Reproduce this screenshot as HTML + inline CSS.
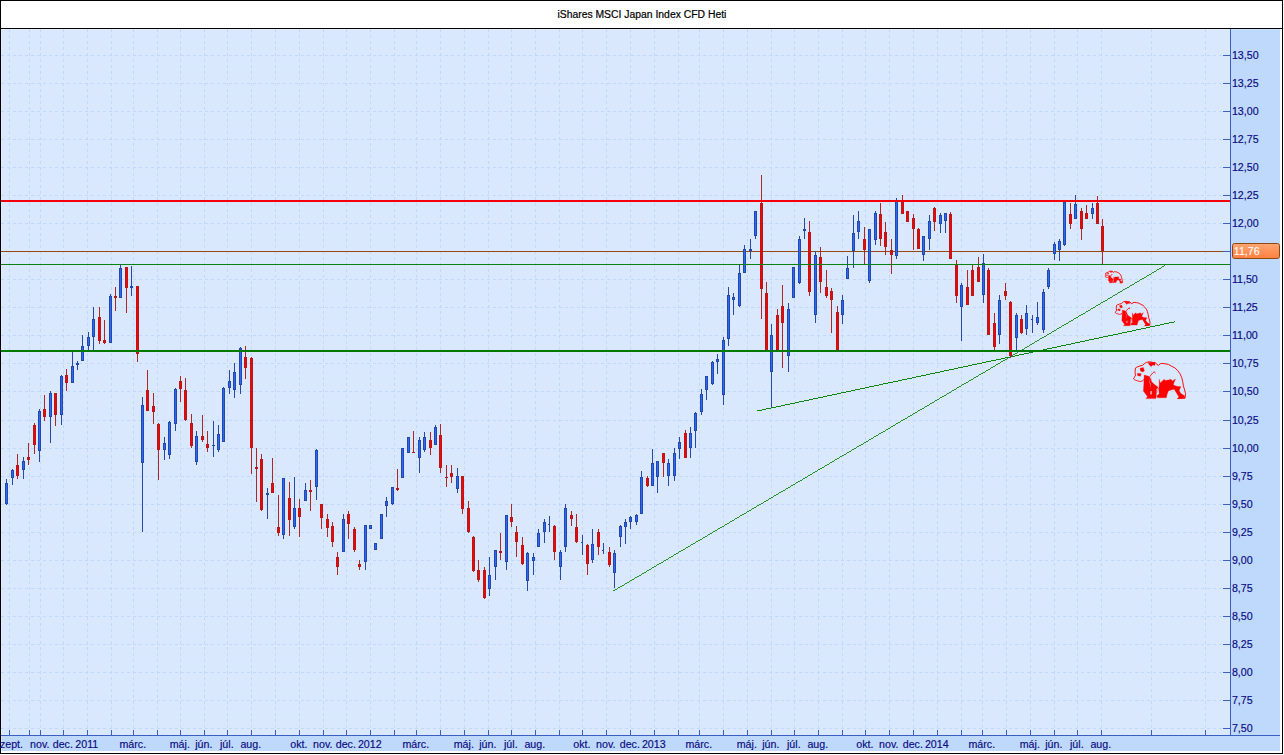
<!DOCTYPE html>
<html lang="hu"><head><meta charset="utf-8"><title>iShares MSCI Japan Index CFD Heti</title>
<style>html,body{margin:0;padding:0;background:#fff}body{width:1284px;height:755px;overflow:hidden;font-family:"Liberation Sans",Arial,sans-serif}svg{display:block}text{font-family:"Liberation Sans",Arial,sans-serif;font-size:10.67px}</style>
</head><body>
<svg width="1284" height="755" viewBox="0 0 1284 755">
<rect x="0" y="0" width="1284" height="755" fill="#fff"/>
<g shape-rendering="crispEdges">
<rect x="0" y="0" width="1283" height="754" fill="#000"/>
<rect x="1" y="1" width="1281" height="752" fill="#fff"/>
<rect x="0" y="28" width="1283" height="1" fill="#000"/>
<rect x="1" y="29" width="1279" height="722" fill="#BFD9FC"/>
<rect x="1" y="29" width="1229" height="706" fill="#D9E8FD"/>
<rect x="1" y="29" width="1229" height="1" fill="#E0EEFE"/>
<rect x="1231" y="29" width="49" height="1" fill="#C8E2FD"/>
<rect x="1" y="29" width="1" height="706" fill="#E0EEFE"/>
<rect x="1" y="736" width="1" height="15" fill="#D3E8FE"/>
<g fill="#BFD8FC">
<path d="M1 728.5H1222" stroke="#BFD8FC" stroke-width="1" stroke-dasharray="3 3" fill="none"/>
<path d="M1 700.5H1222" stroke="#BFD8FC" stroke-width="1" stroke-dasharray="3 3" fill="none"/>
<path d="M1 672.5H1222" stroke="#BFD8FC" stroke-width="1" stroke-dasharray="3 3" fill="none"/>
<path d="M1 644.5H1222" stroke="#BFD8FC" stroke-width="1" stroke-dasharray="3 3" fill="none"/>
<path d="M1 616.5H1222" stroke="#BFD8FC" stroke-width="1" stroke-dasharray="3 3" fill="none"/>
<path d="M1 588.5H1222" stroke="#BFD8FC" stroke-width="1" stroke-dasharray="3 3" fill="none"/>
<path d="M1 560.5H1222" stroke="#BFD8FC" stroke-width="1" stroke-dasharray="3 3" fill="none"/>
<path d="M1 532.5H1222" stroke="#BFD8FC" stroke-width="1" stroke-dasharray="3 3" fill="none"/>
<path d="M1 504.5H1222" stroke="#BFD8FC" stroke-width="1" stroke-dasharray="3 3" fill="none"/>
<path d="M1 476.5H1222" stroke="#BFD8FC" stroke-width="1" stroke-dasharray="3 3" fill="none"/>
<path d="M1 448.5H1222" stroke="#BFD8FC" stroke-width="1" stroke-dasharray="3 3" fill="none"/>
<path d="M1 420.5H1222" stroke="#BFD8FC" stroke-width="1" stroke-dasharray="3 3" fill="none"/>
<path d="M1 391.5H1222" stroke="#BFD8FC" stroke-width="1" stroke-dasharray="3 3" fill="none"/>
<path d="M1 363.5H1222" stroke="#BFD8FC" stroke-width="1" stroke-dasharray="3 3" fill="none"/>
<path d="M1 335.5H1222" stroke="#BFD8FC" stroke-width="1" stroke-dasharray="3 3" fill="none"/>
<path d="M1 307.5H1222" stroke="#BFD8FC" stroke-width="1" stroke-dasharray="3 3" fill="none"/>
<path d="M1 279.5H1222" stroke="#BFD8FC" stroke-width="1" stroke-dasharray="3 3" fill="none"/>
<path d="M1 251.5H1222" stroke="#BFD8FC" stroke-width="1" stroke-dasharray="3 3" fill="none"/>
<path d="M1 223.5H1222" stroke="#BFD8FC" stroke-width="1" stroke-dasharray="3 3" fill="none"/>
<path d="M1 195.5H1222" stroke="#BFD8FC" stroke-width="1" stroke-dasharray="3 3" fill="none"/>
<path d="M1 167.5H1222" stroke="#BFD8FC" stroke-width="1" stroke-dasharray="3 3" fill="none"/>
<path d="M1 139.5H1222" stroke="#BFD8FC" stroke-width="1" stroke-dasharray="3 3" fill="none"/>
<path d="M1 111.5H1222" stroke="#BFD8FC" stroke-width="1" stroke-dasharray="3 3" fill="none"/>
<path d="M1 83.5H1222" stroke="#BFD8FC" stroke-width="1" stroke-dasharray="3 3" fill="none"/>
<path d="M1 55.5H1222" stroke="#BFD8FC" stroke-width="1" stroke-dasharray="3 3" fill="none"/>
<path d="M9.5 29V730" stroke="#BFD8FC" stroke-width="1" stroke-dasharray="3 3" fill="none"/>
<path d="M29.5 29V730" stroke="#BFD8FC" stroke-width="1" stroke-dasharray="3 3" fill="none"/>
<path d="M40.5 29V730" stroke="#BFD8FC" stroke-width="1" stroke-dasharray="3 3" fill="none"/>
<path d="M63.5 29V730" stroke="#BFD8FC" stroke-width="1" stroke-dasharray="3 3" fill="none"/>
<path d="M87.5 29V730" stroke="#BFD8FC" stroke-width="1" stroke-dasharray="3 3" fill="none"/>
<path d="M111.5 29V730" stroke="#BFD8FC" stroke-width="1" stroke-dasharray="3 3" fill="none"/>
<path d="M133.5 29V730" stroke="#BFD8FC" stroke-width="1" stroke-dasharray="3 3" fill="none"/>
<path d="M157.5 29V730" stroke="#BFD8FC" stroke-width="1" stroke-dasharray="3 3" fill="none"/>
<path d="M180.5 29V730" stroke="#BFD8FC" stroke-width="1" stroke-dasharray="3 3" fill="none"/>
<path d="M204.5 29V730" stroke="#BFD8FC" stroke-width="1" stroke-dasharray="3 3" fill="none"/>
<path d="M227.5 29V730" stroke="#BFD8FC" stroke-width="1" stroke-dasharray="3 3" fill="none"/>
<path d="M251.5 29V730" stroke="#BFD8FC" stroke-width="1" stroke-dasharray="3 3" fill="none"/>
<path d="M275.5 29V730" stroke="#BFD8FC" stroke-width="1" stroke-dasharray="3 3" fill="none"/>
<path d="M299.5 29V730" stroke="#BFD8FC" stroke-width="1" stroke-dasharray="3 3" fill="none"/>
<path d="M323.5 29V730" stroke="#BFD8FC" stroke-width="1" stroke-dasharray="3 3" fill="none"/>
<path d="M346.5 29V730" stroke="#BFD8FC" stroke-width="1" stroke-dasharray="3 3" fill="none"/>
<path d="M370.5 29V730" stroke="#BFD8FC" stroke-width="1" stroke-dasharray="3 3" fill="none"/>
<path d="M394.5 29V730" stroke="#BFD8FC" stroke-width="1" stroke-dasharray="3 3" fill="none"/>
<path d="M416.5 29V730" stroke="#BFD8FC" stroke-width="1" stroke-dasharray="3 3" fill="none"/>
<path d="M440.5 29V730" stroke="#BFD8FC" stroke-width="1" stroke-dasharray="3 3" fill="none"/>
<path d="M464.5 29V730" stroke="#BFD8FC" stroke-width="1" stroke-dasharray="3 3" fill="none"/>
<path d="M488.5 29V730" stroke="#BFD8FC" stroke-width="1" stroke-dasharray="3 3" fill="none"/>
<path d="M511.5 29V730" stroke="#BFD8FC" stroke-width="1" stroke-dasharray="3 3" fill="none"/>
<path d="M535.5 29V730" stroke="#BFD8FC" stroke-width="1" stroke-dasharray="3 3" fill="none"/>
<path d="M559.5 29V730" stroke="#BFD8FC" stroke-width="1" stroke-dasharray="3 3" fill="none"/>
<path d="M582.5 29V730" stroke="#BFD8FC" stroke-width="1" stroke-dasharray="3 3" fill="none"/>
<path d="M606.5 29V730" stroke="#BFD8FC" stroke-width="1" stroke-dasharray="3 3" fill="none"/>
<path d="M630.5 29V730" stroke="#BFD8FC" stroke-width="1" stroke-dasharray="3 3" fill="none"/>
<path d="M654.5 29V730" stroke="#BFD8FC" stroke-width="1" stroke-dasharray="3 3" fill="none"/>
<path d="M678.5 29V730" stroke="#BFD8FC" stroke-width="1" stroke-dasharray="3 3" fill="none"/>
<path d="M699.5 29V730" stroke="#BFD8FC" stroke-width="1" stroke-dasharray="3 3" fill="none"/>
<path d="M723.5 29V730" stroke="#BFD8FC" stroke-width="1" stroke-dasharray="3 3" fill="none"/>
<path d="M747.5 29V730" stroke="#BFD8FC" stroke-width="1" stroke-dasharray="3 3" fill="none"/>
<path d="M771.5 29V730" stroke="#BFD8FC" stroke-width="1" stroke-dasharray="3 3" fill="none"/>
<path d="M794.5 29V730" stroke="#BFD8FC" stroke-width="1" stroke-dasharray="3 3" fill="none"/>
<path d="M818.5 29V730" stroke="#BFD8FC" stroke-width="1" stroke-dasharray="3 3" fill="none"/>
<path d="M842.5 29V730" stroke="#BFD8FC" stroke-width="1" stroke-dasharray="3 3" fill="none"/>
<path d="M865.5 29V730" stroke="#BFD8FC" stroke-width="1" stroke-dasharray="3 3" fill="none"/>
<path d="M889.5 29V730" stroke="#BFD8FC" stroke-width="1" stroke-dasharray="3 3" fill="none"/>
<path d="M913.5 29V730" stroke="#BFD8FC" stroke-width="1" stroke-dasharray="3 3" fill="none"/>
<path d="M937.5 29V730" stroke="#BFD8FC" stroke-width="1" stroke-dasharray="3 3" fill="none"/>
<path d="M961.5 29V730" stroke="#BFD8FC" stroke-width="1" stroke-dasharray="3 3" fill="none"/>
<path d="M982.5 29V730" stroke="#BFD8FC" stroke-width="1" stroke-dasharray="3 3" fill="none"/>
<path d="M1006.5 29V730" stroke="#BFD8FC" stroke-width="1" stroke-dasharray="3 3" fill="none"/>
<path d="M1030.5 29V730" stroke="#BFD8FC" stroke-width="1" stroke-dasharray="3 3" fill="none"/>
<path d="M1054.5 29V730" stroke="#BFD8FC" stroke-width="1" stroke-dasharray="3 3" fill="none"/>
<path d="M1077.5 29V730" stroke="#BFD8FC" stroke-width="1" stroke-dasharray="3 3" fill="none"/>
<path d="M1101.5 29V730" stroke="#BFD8FC" stroke-width="1" stroke-dasharray="3 3" fill="none"/>
<path d="M1151.5 29V730" stroke="#BFD8FC" stroke-width="1" stroke-dasharray="3 3" fill="none"/>
<path d="M1205.5 29V730" stroke="#BFD8FC" stroke-width="1" stroke-dasharray="3 3" fill="none"/>
</g>
<rect x="1" y="200" width="1229" height="2" fill="#F4000C"/>
<rect x="1" y="251" width="1222" height="1" fill="#96480F"/>
<rect x="1" y="264" width="1229" height="1" fill="#0E820E"/>
<rect x="1" y="350" width="1229" height="2" fill="#007A00"/>
</g>
<g stroke="#0A820A" stroke-width="1" fill="none" shape-rendering="crispEdges">
<line x1="613.4" y1="591.0" x2="1165.2" y2="265.4" stroke-width="0.87"/>
<line x1="757.1" y1="411.0" x2="1175.2" y2="321.7" stroke-width="0.98"/>
</g>
<g shape-rendering="crispEdges">
<rect x="6" y="479" width="1" height="26" fill="#2848A6"/>
<rect x="5" y="483" width="3" height="21" fill="#2448AA"/>
<rect x="6" y="484" width="1" height="19" fill="#2A68FF"/>
<rect x="12" y="469" width="1" height="16" fill="#2848A6"/>
<rect x="11" y="470" width="3" height="8" fill="#2448AA"/>
<rect x="12" y="471" width="1" height="6" fill="#2A68FF"/>
<rect x="17" y="454" width="1" height="25" fill="#AA2828"/>
<rect x="16" y="465" width="3" height="11" fill="#B41818"/>
<rect x="17" y="466" width="1" height="9" fill="#FF0000"/>
<rect x="23" y="457" width="1" height="22" fill="#2848A6"/>
<rect x="22" y="461" width="3" height="9" fill="#2448AA"/>
<rect x="23" y="462" width="1" height="7" fill="#2A68FF"/>
<rect x="28" y="443" width="1" height="22" fill="#AA2828"/>
<rect x="27" y="457" width="3" height="3" fill="#B41818"/>
<rect x="28" y="458" width="1" height="1" fill="#FF0000"/>
<rect x="34" y="423" width="1" height="31" fill="#AA2828"/>
<rect x="33" y="425" width="3" height="20" fill="#B41818"/>
<rect x="34" y="426" width="1" height="18" fill="#FF0000"/>
<rect x="39" y="409" width="1" height="53" fill="#2848A6"/>
<rect x="38" y="411" width="3" height="40" fill="#2448AA"/>
<rect x="39" y="412" width="1" height="38" fill="#2A68FF"/>
<rect x="44" y="395" width="1" height="26" fill="#AA2828"/>
<rect x="43" y="409" width="3" height="8" fill="#B41818"/>
<rect x="44" y="410" width="1" height="6" fill="#FF0000"/>
<rect x="50" y="391" width="1" height="52" fill="#2848A6"/>
<rect x="49" y="393" width="3" height="24" fill="#2448AA"/>
<rect x="50" y="394" width="1" height="22" fill="#2A68FF"/>
<rect x="55" y="393" width="1" height="33" fill="#AA2828"/>
<rect x="54" y="393" width="3" height="22" fill="#B41818"/>
<rect x="55" y="394" width="1" height="20" fill="#FF0000"/>
<rect x="61" y="375" width="1" height="50" fill="#2848A6"/>
<rect x="60" y="376" width="3" height="39" fill="#2448AA"/>
<rect x="61" y="377" width="1" height="37" fill="#2A68FF"/>
<rect x="66" y="369" width="1" height="22" fill="#AA2828"/>
<rect x="65" y="375" width="3" height="8" fill="#B41818"/>
<rect x="66" y="376" width="1" height="6" fill="#FF0000"/>
<rect x="72" y="352" width="1" height="31" fill="#2848A6"/>
<rect x="71" y="366" width="3" height="17" fill="#2448AA"/>
<rect x="72" y="367" width="1" height="15" fill="#2A68FF"/>
<rect x="77" y="361" width="1" height="9" fill="#2848A6"/>
<rect x="76" y="363" width="3" height="2" fill="#2448AA"/>
<rect x="82" y="335" width="1" height="26" fill="#2848A6"/>
<rect x="81" y="346" width="3" height="15" fill="#2448AA"/>
<rect x="82" y="347" width="1" height="13" fill="#2A68FF"/>
<rect x="88" y="332" width="1" height="18" fill="#2848A6"/>
<rect x="87" y="337" width="3" height="9" fill="#2448AA"/>
<rect x="88" y="338" width="1" height="7" fill="#2A68FF"/>
<rect x="93" y="307" width="1" height="43" fill="#2848A6"/>
<rect x="92" y="319" width="3" height="18" fill="#2448AA"/>
<rect x="93" y="320" width="1" height="16" fill="#2A68FF"/>
<rect x="99" y="307" width="1" height="37" fill="#AA2828"/>
<rect x="98" y="317" width="3" height="24" fill="#B41818"/>
<rect x="99" y="318" width="1" height="22" fill="#FF0000"/>
<rect x="104" y="320" width="1" height="24" fill="#AA2828"/>
<rect x="103" y="340" width="3" height="3" fill="#B41818"/>
<rect x="104" y="341" width="1" height="1" fill="#FF0000"/>
<rect x="110" y="294" width="1" height="49" fill="#2848A6"/>
<rect x="109" y="296" width="3" height="47" fill="#2448AA"/>
<rect x="110" y="297" width="1" height="45" fill="#2A68FF"/>
<rect x="115" y="287" width="1" height="24" fill="#AA2828"/>
<rect x="114" y="296" width="3" height="2" fill="#B41818"/>
<rect x="120" y="265" width="1" height="33" fill="#2848A6"/>
<rect x="119" y="268" width="3" height="30" fill="#2448AA"/>
<rect x="120" y="269" width="1" height="28" fill="#2A68FF"/>
<rect x="126" y="267" width="1" height="46" fill="#AA2828"/>
<rect x="125" y="267" width="3" height="21" fill="#B41818"/>
<rect x="126" y="268" width="1" height="19" fill="#FF0000"/>
<rect x="131" y="266" width="1" height="30" fill="#2848A6"/>
<rect x="130" y="286" width="3" height="2" fill="#2448AA"/>
<rect x="137" y="286" width="1" height="76" fill="#AA2828"/>
<rect x="136" y="286" width="3" height="68" fill="#B41818"/>
<rect x="137" y="287" width="1" height="66" fill="#FF0000"/>
<rect x="142" y="397" width="1" height="135" fill="#2848A6"/>
<rect x="141" y="405" width="3" height="58" fill="#2448AA"/>
<rect x="142" y="406" width="1" height="56" fill="#2A68FF"/>
<rect x="147" y="370" width="1" height="41" fill="#AA2828"/>
<rect x="146" y="390" width="3" height="21" fill="#B41818"/>
<rect x="147" y="391" width="1" height="19" fill="#FF0000"/>
<rect x="153" y="393" width="1" height="31" fill="#AA2828"/>
<rect x="152" y="406" width="3" height="6" fill="#B41818"/>
<rect x="153" y="407" width="1" height="4" fill="#FF0000"/>
<rect x="158" y="423" width="1" height="57" fill="#AA2828"/>
<rect x="157" y="424" width="3" height="26" fill="#B41818"/>
<rect x="158" y="425" width="1" height="24" fill="#FF0000"/>
<rect x="164" y="437" width="1" height="23" fill="#2848A6"/>
<rect x="163" y="443" width="3" height="7" fill="#2448AA"/>
<rect x="164" y="444" width="1" height="5" fill="#2A68FF"/>
<rect x="169" y="421" width="1" height="38" fill="#2848A6"/>
<rect x="168" y="422" width="3" height="33" fill="#2448AA"/>
<rect x="169" y="423" width="1" height="31" fill="#2A68FF"/>
<rect x="175" y="388" width="1" height="43" fill="#2848A6"/>
<rect x="174" y="389" width="3" height="35" fill="#2448AA"/>
<rect x="175" y="390" width="1" height="33" fill="#2A68FF"/>
<rect x="180" y="376" width="1" height="26" fill="#AA2828"/>
<rect x="179" y="381" width="3" height="8" fill="#B41818"/>
<rect x="180" y="382" width="1" height="6" fill="#FF0000"/>
<rect x="185" y="378" width="1" height="43" fill="#AA2828"/>
<rect x="184" y="390" width="3" height="30" fill="#B41818"/>
<rect x="185" y="391" width="1" height="28" fill="#FF0000"/>
<rect x="191" y="414" width="1" height="34" fill="#AA2828"/>
<rect x="190" y="423" width="3" height="23" fill="#B41818"/>
<rect x="191" y="424" width="1" height="21" fill="#FF0000"/>
<rect x="196" y="431" width="1" height="34" fill="#2848A6"/>
<rect x="195" y="436" width="3" height="26" fill="#2448AA"/>
<rect x="196" y="437" width="1" height="24" fill="#2A68FF"/>
<rect x="202" y="415" width="1" height="27" fill="#AA2828"/>
<rect x="201" y="436" width="3" height="4" fill="#B41818"/>
<rect x="202" y="437" width="1" height="2" fill="#FF0000"/>
<rect x="207" y="431" width="1" height="21" fill="#AA2828"/>
<rect x="206" y="444" width="3" height="4" fill="#B41818"/>
<rect x="207" y="445" width="1" height="2" fill="#FF0000"/>
<rect x="213" y="421" width="1" height="36" fill="#2848A6"/>
<rect x="212" y="445" width="3" height="1" fill="#2448AA"/>
<rect x="218" y="425" width="1" height="27" fill="#2848A6"/>
<rect x="217" y="434" width="3" height="16" fill="#2448AA"/>
<rect x="218" y="435" width="1" height="14" fill="#2A68FF"/>
<rect x="223" y="387" width="1" height="55" fill="#2848A6"/>
<rect x="222" y="388" width="3" height="54" fill="#2448AA"/>
<rect x="223" y="389" width="1" height="52" fill="#2A68FF"/>
<rect x="229" y="370" width="1" height="24" fill="#2848A6"/>
<rect x="228" y="381" width="3" height="7" fill="#2448AA"/>
<rect x="229" y="382" width="1" height="5" fill="#2A68FF"/>
<rect x="234" y="363" width="1" height="35" fill="#2848A6"/>
<rect x="233" y="372" width="3" height="18" fill="#2448AA"/>
<rect x="234" y="373" width="1" height="16" fill="#2A68FF"/>
<rect x="240" y="347" width="1" height="47" fill="#2848A6"/>
<rect x="239" y="348" width="3" height="37" fill="#2448AA"/>
<rect x="240" y="349" width="1" height="35" fill="#2A68FF"/>
<rect x="245" y="346" width="1" height="33" fill="#AA2828"/>
<rect x="244" y="357" width="3" height="11" fill="#B41818"/>
<rect x="245" y="358" width="1" height="9" fill="#FF0000"/>
<rect x="251" y="357" width="1" height="117" fill="#AA2828"/>
<rect x="250" y="358" width="3" height="90" fill="#B41818"/>
<rect x="251" y="359" width="1" height="88" fill="#FF0000"/>
<rect x="256" y="448" width="1" height="54" fill="#AA2828"/>
<rect x="255" y="467" width="3" height="2" fill="#B41818"/>
<rect x="261" y="454" width="1" height="57" fill="#AA2828"/>
<rect x="260" y="459" width="3" height="51" fill="#B41818"/>
<rect x="261" y="460" width="1" height="49" fill="#FF0000"/>
<rect x="267" y="488" width="1" height="31" fill="#2848A6"/>
<rect x="266" y="493" width="3" height="2" fill="#2448AA"/>
<rect x="272" y="458" width="1" height="35" fill="#AA2828"/>
<rect x="271" y="483" width="3" height="10" fill="#B41818"/>
<rect x="272" y="484" width="1" height="8" fill="#FF0000"/>
<rect x="278" y="495" width="1" height="41" fill="#AA2828"/>
<rect x="277" y="527" width="3" height="6" fill="#B41818"/>
<rect x="278" y="528" width="1" height="4" fill="#FF0000"/>
<rect x="283" y="478" width="1" height="61" fill="#2848A6"/>
<rect x="282" y="478" width="3" height="57" fill="#2448AA"/>
<rect x="283" y="479" width="1" height="55" fill="#2A68FF"/>
<rect x="289" y="482" width="1" height="54" fill="#AA2828"/>
<rect x="288" y="498" width="3" height="22" fill="#B41818"/>
<rect x="289" y="499" width="1" height="20" fill="#FF0000"/>
<rect x="294" y="477" width="1" height="52" fill="#2848A6"/>
<rect x="293" y="508" width="3" height="19" fill="#2448AA"/>
<rect x="294" y="509" width="1" height="17" fill="#2A68FF"/>
<rect x="299" y="499" width="1" height="38" fill="#AA2828"/>
<rect x="298" y="508" width="3" height="9" fill="#B41818"/>
<rect x="299" y="509" width="1" height="7" fill="#FF0000"/>
<rect x="305" y="483" width="1" height="18" fill="#2848A6"/>
<rect x="304" y="490" width="3" height="11" fill="#2448AA"/>
<rect x="305" y="491" width="1" height="9" fill="#2A68FF"/>
<rect x="310" y="480" width="1" height="31" fill="#AA2828"/>
<rect x="309" y="490" width="3" height="2" fill="#B41818"/>
<rect x="316" y="449" width="1" height="51" fill="#2848A6"/>
<rect x="315" y="450" width="3" height="37" fill="#2448AA"/>
<rect x="316" y="451" width="1" height="35" fill="#2A68FF"/>
<rect x="321" y="504" width="1" height="25" fill="#AA2828"/>
<rect x="320" y="504" width="3" height="14" fill="#B41818"/>
<rect x="321" y="505" width="1" height="12" fill="#FF0000"/>
<rect x="327" y="514" width="1" height="23" fill="#AA2828"/>
<rect x="326" y="519" width="3" height="9" fill="#B41818"/>
<rect x="327" y="520" width="1" height="7" fill="#FF0000"/>
<rect x="332" y="522" width="1" height="25" fill="#AA2828"/>
<rect x="331" y="526" width="3" height="16" fill="#B41818"/>
<rect x="332" y="527" width="1" height="14" fill="#FF0000"/>
<rect x="337" y="552" width="1" height="23" fill="#AA2828"/>
<rect x="336" y="557" width="3" height="10" fill="#B41818"/>
<rect x="337" y="558" width="1" height="8" fill="#FF0000"/>
<rect x="343" y="514" width="1" height="38" fill="#2848A6"/>
<rect x="342" y="519" width="3" height="33" fill="#2448AA"/>
<rect x="343" y="520" width="1" height="31" fill="#2A68FF"/>
<rect x="348" y="511" width="1" height="28" fill="#AA2828"/>
<rect x="347" y="514" width="3" height="10" fill="#B41818"/>
<rect x="348" y="515" width="1" height="8" fill="#FF0000"/>
<rect x="354" y="527" width="1" height="25" fill="#AA2828"/>
<rect x="353" y="529" width="3" height="21" fill="#B41818"/>
<rect x="354" y="530" width="1" height="19" fill="#FF0000"/>
<rect x="359" y="560" width="1" height="10" fill="#AA2828"/>
<rect x="358" y="564" width="3" height="3" fill="#B41818"/>
<rect x="359" y="565" width="1" height="1" fill="#FF0000"/>
<rect x="365" y="525" width="1" height="45" fill="#2848A6"/>
<rect x="364" y="525" width="3" height="37" fill="#2448AA"/>
<rect x="365" y="526" width="1" height="35" fill="#2A68FF"/>
<rect x="370" y="525" width="1" height="4" fill="#2848A6"/>
<rect x="369" y="525" width="3" height="4" fill="#2448AA"/>
<rect x="370" y="526" width="1" height="2" fill="#2A68FF"/>
<rect x="375" y="543" width="1" height="7" fill="#2848A6"/>
<rect x="374" y="543" width="3" height="7" fill="#2448AA"/>
<rect x="375" y="544" width="1" height="5" fill="#2A68FF"/>
<rect x="381" y="514" width="1" height="25" fill="#2848A6"/>
<rect x="380" y="514" width="3" height="25" fill="#2448AA"/>
<rect x="381" y="515" width="1" height="23" fill="#2A68FF"/>
<rect x="386" y="497" width="1" height="20" fill="#2848A6"/>
<rect x="385" y="501" width="3" height="5" fill="#2448AA"/>
<rect x="386" y="502" width="1" height="3" fill="#2A68FF"/>
<rect x="392" y="487" width="1" height="18" fill="#2848A6"/>
<rect x="391" y="487" width="3" height="17" fill="#2448AA"/>
<rect x="392" y="488" width="1" height="15" fill="#2A68FF"/>
<rect x="397" y="469" width="1" height="22" fill="#AA2828"/>
<rect x="396" y="488" width="3" height="2" fill="#B41818"/>
<rect x="402" y="448" width="1" height="30" fill="#2848A6"/>
<rect x="401" y="448" width="3" height="30" fill="#2448AA"/>
<rect x="402" y="449" width="1" height="28" fill="#2A68FF"/>
<rect x="408" y="437" width="1" height="16" fill="#2848A6"/>
<rect x="407" y="437" width="3" height="16" fill="#2448AA"/>
<rect x="408" y="438" width="1" height="14" fill="#2A68FF"/>
<rect x="413" y="431" width="1" height="22" fill="#AA2828"/>
<rect x="412" y="452" width="3" height="1" fill="#B41818"/>
<rect x="419" y="437" width="1" height="36" fill="#2848A6"/>
<rect x="418" y="440" width="3" height="18" fill="#2448AA"/>
<rect x="419" y="441" width="1" height="16" fill="#2A68FF"/>
<rect x="424" y="432" width="1" height="20" fill="#2848A6"/>
<rect x="423" y="437" width="3" height="13" fill="#2448AA"/>
<rect x="424" y="438" width="1" height="11" fill="#2A68FF"/>
<rect x="430" y="432" width="1" height="23" fill="#AA2828"/>
<rect x="429" y="440" width="3" height="8" fill="#B41818"/>
<rect x="430" y="441" width="1" height="6" fill="#FF0000"/>
<rect x="435" y="425" width="1" height="20" fill="#2848A6"/>
<rect x="434" y="427" width="3" height="18" fill="#2448AA"/>
<rect x="435" y="428" width="1" height="16" fill="#2A68FF"/>
<rect x="440" y="424" width="1" height="49" fill="#AA2828"/>
<rect x="439" y="435" width="3" height="33" fill="#B41818"/>
<rect x="440" y="436" width="1" height="31" fill="#FF0000"/>
<rect x="446" y="465" width="1" height="22" fill="#AA2828"/>
<rect x="445" y="477" width="3" height="1" fill="#B41818"/>
<rect x="451" y="465" width="1" height="18" fill="#AA2828"/>
<rect x="450" y="473" width="3" height="4" fill="#B41818"/>
<rect x="451" y="474" width="1" height="2" fill="#FF0000"/>
<rect x="457" y="468" width="1" height="25" fill="#2848A6"/>
<rect x="456" y="476" width="3" height="13" fill="#2448AA"/>
<rect x="457" y="477" width="1" height="11" fill="#2A68FF"/>
<rect x="462" y="476" width="1" height="38" fill="#AA2828"/>
<rect x="461" y="476" width="3" height="33" fill="#B41818"/>
<rect x="462" y="477" width="1" height="31" fill="#FF0000"/>
<rect x="468" y="501" width="1" height="32" fill="#AA2828"/>
<rect x="467" y="508" width="3" height="24" fill="#B41818"/>
<rect x="468" y="509" width="1" height="22" fill="#FF0000"/>
<rect x="473" y="536" width="1" height="36" fill="#AA2828"/>
<rect x="472" y="537" width="3" height="34" fill="#B41818"/>
<rect x="473" y="538" width="1" height="32" fill="#FF0000"/>
<rect x="478" y="560" width="1" height="22" fill="#AA2828"/>
<rect x="477" y="570" width="3" height="10" fill="#B41818"/>
<rect x="478" y="571" width="1" height="8" fill="#FF0000"/>
<rect x="484" y="567" width="1" height="32" fill="#AA2828"/>
<rect x="483" y="570" width="3" height="28" fill="#B41818"/>
<rect x="484" y="571" width="1" height="26" fill="#FF0000"/>
<rect x="489" y="557" width="1" height="39" fill="#2848A6"/>
<rect x="488" y="575" width="3" height="14" fill="#2448AA"/>
<rect x="489" y="576" width="1" height="12" fill="#2A68FF"/>
<rect x="495" y="550" width="1" height="30" fill="#2848A6"/>
<rect x="494" y="550" width="3" height="17" fill="#2448AA"/>
<rect x="495" y="551" width="1" height="15" fill="#2A68FF"/>
<rect x="500" y="533" width="1" height="27" fill="#AA2828"/>
<rect x="499" y="551" width="3" height="2" fill="#B41818"/>
<rect x="506" y="515" width="1" height="55" fill="#2848A6"/>
<rect x="505" y="515" width="3" height="47" fill="#2448AA"/>
<rect x="506" y="516" width="1" height="45" fill="#2A68FF"/>
<rect x="511" y="504" width="1" height="23" fill="#AA2828"/>
<rect x="510" y="517" width="3" height="5" fill="#B41818"/>
<rect x="511" y="518" width="1" height="3" fill="#FF0000"/>
<rect x="516" y="526" width="1" height="31" fill="#AA2828"/>
<rect x="515" y="532" width="3" height="10" fill="#B41818"/>
<rect x="516" y="533" width="1" height="8" fill="#FF0000"/>
<rect x="522" y="537" width="1" height="28" fill="#AA2828"/>
<rect x="521" y="545" width="3" height="19" fill="#B41818"/>
<rect x="522" y="546" width="1" height="17" fill="#FF0000"/>
<rect x="527" y="552" width="1" height="39" fill="#2848A6"/>
<rect x="526" y="553" width="3" height="28" fill="#2448AA"/>
<rect x="527" y="554" width="1" height="26" fill="#2A68FF"/>
<rect x="533" y="553" width="1" height="22" fill="#2848A6"/>
<rect x="532" y="557" width="3" height="4" fill="#2448AA"/>
<rect x="533" y="558" width="1" height="2" fill="#2A68FF"/>
<rect x="538" y="529" width="1" height="18" fill="#2848A6"/>
<rect x="537" y="533" width="3" height="14" fill="#2448AA"/>
<rect x="538" y="534" width="1" height="12" fill="#2A68FF"/>
<rect x="544" y="519" width="1" height="24" fill="#2848A6"/>
<rect x="543" y="522" width="3" height="10" fill="#2448AA"/>
<rect x="544" y="523" width="1" height="8" fill="#2A68FF"/>
<rect x="549" y="516" width="1" height="16" fill="#2848A6"/>
<rect x="548" y="524" width="2" height="1" fill="#2448AA"/>
<rect x="554" y="525" width="1" height="35" fill="#AA2828"/>
<rect x="553" y="526" width="3" height="26" fill="#B41818"/>
<rect x="554" y="527" width="1" height="24" fill="#FF0000"/>
<rect x="560" y="550" width="1" height="30" fill="#2848A6"/>
<rect x="559" y="552" width="3" height="15" fill="#2448AA"/>
<rect x="560" y="553" width="1" height="13" fill="#2A68FF"/>
<rect x="565" y="504" width="1" height="48" fill="#2848A6"/>
<rect x="564" y="508" width="3" height="39" fill="#2448AA"/>
<rect x="565" y="509" width="1" height="37" fill="#2A68FF"/>
<rect x="571" y="511" width="1" height="15" fill="#AA2828"/>
<rect x="570" y="515" width="3" height="4" fill="#B41818"/>
<rect x="571" y="516" width="1" height="2" fill="#FF0000"/>
<rect x="576" y="514" width="1" height="29" fill="#AA2828"/>
<rect x="575" y="527" width="3" height="15" fill="#B41818"/>
<rect x="576" y="528" width="1" height="13" fill="#FF0000"/>
<rect x="582" y="535" width="1" height="20" fill="#2848A6"/>
<rect x="581" y="542" width="2" height="1" fill="#2448AA"/>
<rect x="587" y="544" width="1" height="31" fill="#AA2828"/>
<rect x="586" y="545" width="3" height="19" fill="#B41818"/>
<rect x="587" y="546" width="1" height="17" fill="#FF0000"/>
<rect x="592" y="529" width="1" height="34" fill="#2848A6"/>
<rect x="591" y="544" width="3" height="16" fill="#2448AA"/>
<rect x="592" y="545" width="1" height="14" fill="#2A68FF"/>
<rect x="598" y="529" width="1" height="26" fill="#AA2828"/>
<rect x="597" y="532" width="3" height="15" fill="#B41818"/>
<rect x="598" y="533" width="1" height="13" fill="#FF0000"/>
<rect x="603" y="543" width="1" height="11" fill="#2848A6"/>
<rect x="602" y="550" width="2" height="1" fill="#2448AA"/>
<rect x="609" y="547" width="1" height="20" fill="#AA2828"/>
<rect x="608" y="552" width="3" height="13" fill="#B41818"/>
<rect x="609" y="553" width="1" height="11" fill="#FF0000"/>
<rect x="614" y="550" width="1" height="38" fill="#2848A6"/>
<rect x="613" y="553" width="3" height="20" fill="#2448AA"/>
<rect x="614" y="554" width="1" height="18" fill="#2A68FF"/>
<rect x="620" y="525" width="1" height="22" fill="#2848A6"/>
<rect x="619" y="526" width="3" height="11" fill="#2448AA"/>
<rect x="620" y="527" width="1" height="9" fill="#2A68FF"/>
<rect x="625" y="519" width="1" height="25" fill="#2848A6"/>
<rect x="624" y="522" width="3" height="5" fill="#2448AA"/>
<rect x="625" y="523" width="1" height="3" fill="#2A68FF"/>
<rect x="630" y="516" width="1" height="13" fill="#2848A6"/>
<rect x="629" y="517" width="3" height="5" fill="#2448AA"/>
<rect x="630" y="518" width="1" height="3" fill="#2A68FF"/>
<rect x="636" y="514" width="1" height="11" fill="#2848A6"/>
<rect x="635" y="515" width="3" height="7" fill="#2448AA"/>
<rect x="636" y="516" width="1" height="5" fill="#2A68FF"/>
<rect x="641" y="471" width="1" height="43" fill="#2848A6"/>
<rect x="640" y="477" width="3" height="37" fill="#2448AA"/>
<rect x="641" y="478" width="1" height="35" fill="#2A68FF"/>
<rect x="647" y="476" width="1" height="11" fill="#AA2828"/>
<rect x="646" y="478" width="3" height="8" fill="#B41818"/>
<rect x="647" y="479" width="1" height="6" fill="#FF0000"/>
<rect x="652" y="449" width="1" height="37" fill="#2848A6"/>
<rect x="651" y="463" width="3" height="23" fill="#2448AA"/>
<rect x="652" y="464" width="1" height="21" fill="#2A68FF"/>
<rect x="657" y="461" width="1" height="32" fill="#2848A6"/>
<rect x="656" y="461" width="3" height="16" fill="#2448AA"/>
<rect x="657" y="462" width="1" height="14" fill="#2A68FF"/>
<rect x="663" y="453" width="1" height="24" fill="#AA2828"/>
<rect x="662" y="453" width="3" height="10" fill="#B41818"/>
<rect x="663" y="454" width="1" height="8" fill="#FF0000"/>
<rect x="668" y="459" width="1" height="27" fill="#2848A6"/>
<rect x="667" y="463" width="3" height="13" fill="#2448AA"/>
<rect x="668" y="464" width="1" height="11" fill="#2A68FF"/>
<rect x="674" y="448" width="1" height="33" fill="#2848A6"/>
<rect x="673" y="453" width="3" height="23" fill="#2448AA"/>
<rect x="674" y="454" width="1" height="21" fill="#2A68FF"/>
<rect x="679" y="437" width="1" height="22" fill="#2848A6"/>
<rect x="678" y="442" width="3" height="7" fill="#2448AA"/>
<rect x="679" y="443" width="1" height="5" fill="#2A68FF"/>
<rect x="685" y="430" width="1" height="28" fill="#AA2828"/>
<rect x="684" y="433" width="3" height="25" fill="#B41818"/>
<rect x="685" y="434" width="1" height="23" fill="#FF0000"/>
<rect x="690" y="427" width="1" height="31" fill="#2848A6"/>
<rect x="689" y="433" width="3" height="15" fill="#2448AA"/>
<rect x="690" y="434" width="1" height="13" fill="#2A68FF"/>
<rect x="695" y="412" width="1" height="36" fill="#2848A6"/>
<rect x="694" y="413" width="3" height="18" fill="#2448AA"/>
<rect x="695" y="414" width="1" height="16" fill="#2A68FF"/>
<rect x="701" y="389" width="1" height="26" fill="#2848A6"/>
<rect x="700" y="394" width="3" height="18" fill="#2448AA"/>
<rect x="701" y="395" width="1" height="16" fill="#2A68FF"/>
<rect x="706" y="376" width="1" height="24" fill="#2848A6"/>
<rect x="705" y="376" width="3" height="14" fill="#2448AA"/>
<rect x="706" y="377" width="1" height="12" fill="#2A68FF"/>
<rect x="712" y="361" width="1" height="24" fill="#2848A6"/>
<rect x="711" y="362" width="3" height="22" fill="#2448AA"/>
<rect x="712" y="363" width="1" height="20" fill="#2A68FF"/>
<rect x="717" y="354" width="1" height="20" fill="#2848A6"/>
<rect x="716" y="359" width="3" height="3" fill="#2448AA"/>
<rect x="717" y="360" width="1" height="1" fill="#2A68FF"/>
<rect x="723" y="337" width="1" height="68" fill="#2848A6"/>
<rect x="722" y="340" width="3" height="55" fill="#2448AA"/>
<rect x="723" y="341" width="1" height="53" fill="#2A68FF"/>
<rect x="728" y="287" width="1" height="59" fill="#2848A6"/>
<rect x="727" y="295" width="3" height="44" fill="#2448AA"/>
<rect x="728" y="296" width="1" height="42" fill="#2A68FF"/>
<rect x="733" y="293" width="1" height="22" fill="#2848A6"/>
<rect x="732" y="297" width="3" height="3" fill="#2448AA"/>
<rect x="733" y="298" width="1" height="1" fill="#2A68FF"/>
<rect x="739" y="265" width="1" height="42" fill="#2848A6"/>
<rect x="738" y="273" width="3" height="33" fill="#2448AA"/>
<rect x="739" y="274" width="1" height="31" fill="#2A68FF"/>
<rect x="744" y="245" width="1" height="28" fill="#2848A6"/>
<rect x="743" y="249" width="3" height="24" fill="#2448AA"/>
<rect x="744" y="250" width="1" height="22" fill="#2A68FF"/>
<rect x="750" y="239" width="1" height="20" fill="#2848A6"/>
<rect x="749" y="249" width="3" height="2" fill="#2448AA"/>
<rect x="755" y="211" width="1" height="28" fill="#2848A6"/>
<rect x="754" y="211" width="3" height="25" fill="#2448AA"/>
<rect x="755" y="212" width="1" height="23" fill="#2A68FF"/>
<rect x="761" y="175" width="1" height="144" fill="#AA2828"/>
<rect x="760" y="203" width="3" height="86" fill="#B41818"/>
<rect x="761" y="204" width="1" height="84" fill="#FF0000"/>
<rect x="766" y="282" width="1" height="68" fill="#AA2828"/>
<rect x="765" y="293" width="3" height="57" fill="#B41818"/>
<rect x="766" y="294" width="1" height="55" fill="#FF0000"/>
<rect x="771" y="324" width="1" height="83" fill="#2848A6"/>
<rect x="770" y="335" width="3" height="37" fill="#2448AA"/>
<rect x="771" y="336" width="1" height="35" fill="#2A68FF"/>
<rect x="777" y="309" width="1" height="41" fill="#AA2828"/>
<rect x="776" y="315" width="3" height="35" fill="#B41818"/>
<rect x="777" y="316" width="1" height="33" fill="#FF0000"/>
<rect x="782" y="285" width="1" height="83" fill="#AA2828"/>
<rect x="781" y="306" width="3" height="17" fill="#B41818"/>
<rect x="782" y="307" width="1" height="15" fill="#FF0000"/>
<rect x="788" y="303" width="1" height="69" fill="#2848A6"/>
<rect x="787" y="309" width="3" height="47" fill="#2448AA"/>
<rect x="788" y="310" width="1" height="45" fill="#2A68FF"/>
<rect x="793" y="267" width="1" height="31" fill="#2848A6"/>
<rect x="792" y="267" width="3" height="31" fill="#2448AA"/>
<rect x="793" y="268" width="1" height="29" fill="#2A68FF"/>
<rect x="799" y="236" width="1" height="48" fill="#2848A6"/>
<rect x="798" y="239" width="3" height="44" fill="#2448AA"/>
<rect x="799" y="240" width="1" height="42" fill="#2A68FF"/>
<rect x="804" y="218" width="1" height="21" fill="#2848A6"/>
<rect x="803" y="229" width="3" height="2" fill="#2448AA"/>
<rect x="809" y="221" width="1" height="75" fill="#AA2828"/>
<rect x="808" y="232" width="3" height="60" fill="#B41818"/>
<rect x="809" y="233" width="1" height="58" fill="#FF0000"/>
<rect x="815" y="251" width="1" height="72" fill="#2848A6"/>
<rect x="814" y="255" width="3" height="60" fill="#2448AA"/>
<rect x="815" y="256" width="1" height="58" fill="#2A68FF"/>
<rect x="820" y="247" width="1" height="46" fill="#AA2828"/>
<rect x="819" y="257" width="3" height="25" fill="#B41818"/>
<rect x="820" y="258" width="1" height="23" fill="#FF0000"/>
<rect x="826" y="270" width="1" height="28" fill="#AA2828"/>
<rect x="825" y="287" width="3" height="9" fill="#B41818"/>
<rect x="826" y="288" width="1" height="7" fill="#FF0000"/>
<rect x="831" y="288" width="1" height="45" fill="#AA2828"/>
<rect x="830" y="291" width="3" height="9" fill="#B41818"/>
<rect x="831" y="292" width="1" height="7" fill="#FF0000"/>
<rect x="837" y="306" width="1" height="44" fill="#AA2828"/>
<rect x="836" y="312" width="3" height="38" fill="#B41818"/>
<rect x="837" y="313" width="1" height="36" fill="#FF0000"/>
<rect x="842" y="295" width="1" height="29" fill="#2848A6"/>
<rect x="841" y="300" width="3" height="15" fill="#2448AA"/>
<rect x="842" y="301" width="1" height="13" fill="#2A68FF"/>
<rect x="847" y="256" width="1" height="23" fill="#2848A6"/>
<rect x="846" y="268" width="3" height="11" fill="#2448AA"/>
<rect x="847" y="269" width="1" height="9" fill="#2A68FF"/>
<rect x="853" y="215" width="1" height="53" fill="#2848A6"/>
<rect x="852" y="233" width="3" height="18" fill="#2448AA"/>
<rect x="853" y="234" width="1" height="16" fill="#2A68FF"/>
<rect x="858" y="211" width="1" height="28" fill="#2848A6"/>
<rect x="857" y="221" width="3" height="11" fill="#2448AA"/>
<rect x="858" y="222" width="1" height="9" fill="#2A68FF"/>
<rect x="864" y="227" width="1" height="37" fill="#AA2828"/>
<rect x="863" y="239" width="3" height="11" fill="#B41818"/>
<rect x="864" y="240" width="1" height="9" fill="#FF0000"/>
<rect x="869" y="229" width="1" height="54" fill="#2848A6"/>
<rect x="868" y="229" width="3" height="52" fill="#2448AA"/>
<rect x="869" y="230" width="1" height="50" fill="#2A68FF"/>
<rect x="875" y="211" width="1" height="34" fill="#2848A6"/>
<rect x="874" y="213" width="3" height="27" fill="#2448AA"/>
<rect x="875" y="214" width="1" height="25" fill="#2A68FF"/>
<rect x="880" y="203" width="1" height="43" fill="#AA2828"/>
<rect x="879" y="214" width="3" height="25" fill="#B41818"/>
<rect x="880" y="215" width="1" height="23" fill="#FF0000"/>
<rect x="885" y="222" width="1" height="33" fill="#AA2828"/>
<rect x="884" y="232" width="3" height="15" fill="#B41818"/>
<rect x="885" y="233" width="1" height="13" fill="#FF0000"/>
<rect x="891" y="239" width="1" height="35" fill="#AA2828"/>
<rect x="890" y="250" width="3" height="5" fill="#B41818"/>
<rect x="891" y="251" width="1" height="3" fill="#FF0000"/>
<rect x="896" y="198" width="1" height="61" fill="#2848A6"/>
<rect x="895" y="200" width="3" height="56" fill="#2448AA"/>
<rect x="896" y="201" width="1" height="54" fill="#2A68FF"/>
<rect x="902" y="195" width="1" height="19" fill="#AA2828"/>
<rect x="901" y="202" width="3" height="12" fill="#B41818"/>
<rect x="902" y="203" width="1" height="10" fill="#FF0000"/>
<rect x="907" y="211" width="1" height="11" fill="#AA2828"/>
<rect x="906" y="211" width="3" height="11" fill="#B41818"/>
<rect x="907" y="212" width="1" height="9" fill="#FF0000"/>
<rect x="913" y="214" width="1" height="36" fill="#AA2828"/>
<rect x="912" y="218" width="3" height="11" fill="#B41818"/>
<rect x="913" y="219" width="1" height="9" fill="#FF0000"/>
<rect x="918" y="228" width="1" height="21" fill="#AA2828"/>
<rect x="917" y="229" width="3" height="20" fill="#B41818"/>
<rect x="918" y="230" width="1" height="18" fill="#FF0000"/>
<rect x="923" y="236" width="1" height="25" fill="#2848A6"/>
<rect x="922" y="236" width="3" height="19" fill="#2448AA"/>
<rect x="923" y="237" width="1" height="17" fill="#2A68FF"/>
<rect x="929" y="215" width="1" height="35" fill="#2848A6"/>
<rect x="928" y="221" width="3" height="18" fill="#2448AA"/>
<rect x="929" y="222" width="1" height="16" fill="#2A68FF"/>
<rect x="934" y="207" width="1" height="24" fill="#AA2828"/>
<rect x="933" y="208" width="3" height="14" fill="#B41818"/>
<rect x="934" y="209" width="1" height="12" fill="#FF0000"/>
<rect x="940" y="213" width="1" height="20" fill="#2848A6"/>
<rect x="939" y="215" width="3" height="9" fill="#2448AA"/>
<rect x="940" y="216" width="1" height="7" fill="#2A68FF"/>
<rect x="945" y="213" width="1" height="20" fill="#2848A6"/>
<rect x="944" y="213" width="3" height="8" fill="#2448AA"/>
<rect x="945" y="214" width="1" height="6" fill="#2A68FF"/>
<rect x="950" y="212" width="1" height="47" fill="#AA2828"/>
<rect x="949" y="214" width="3" height="45" fill="#B41818"/>
<rect x="950" y="215" width="1" height="43" fill="#FF0000"/>
<rect x="956" y="260" width="1" height="43" fill="#AA2828"/>
<rect x="955" y="265" width="3" height="31" fill="#B41818"/>
<rect x="956" y="266" width="1" height="29" fill="#FF0000"/>
<rect x="961" y="283" width="1" height="58" fill="#2848A6"/>
<rect x="960" y="285" width="3" height="22" fill="#2448AA"/>
<rect x="961" y="286" width="1" height="20" fill="#2A68FF"/>
<rect x="967" y="270" width="1" height="35" fill="#AA2828"/>
<rect x="966" y="287" width="3" height="18" fill="#B41818"/>
<rect x="967" y="288" width="1" height="16" fill="#FF0000"/>
<rect x="972" y="265" width="1" height="31" fill="#AA2828"/>
<rect x="971" y="270" width="3" height="26" fill="#B41818"/>
<rect x="972" y="271" width="1" height="24" fill="#FF0000"/>
<rect x="978" y="257" width="1" height="25" fill="#AA2828"/>
<rect x="977" y="267" width="3" height="15" fill="#B41818"/>
<rect x="978" y="268" width="1" height="13" fill="#FF0000"/>
<rect x="983" y="254" width="1" height="49" fill="#2848A6"/>
<rect x="982" y="263" width="3" height="32" fill="#2448AA"/>
<rect x="983" y="264" width="1" height="30" fill="#2A68FF"/>
<rect x="988" y="268" width="1" height="67" fill="#AA2828"/>
<rect x="987" y="270" width="3" height="65" fill="#B41818"/>
<rect x="988" y="271" width="1" height="63" fill="#FF0000"/>
<rect x="994" y="313" width="1" height="37" fill="#AA2828"/>
<rect x="993" y="323" width="3" height="24" fill="#B41818"/>
<rect x="994" y="324" width="1" height="22" fill="#FF0000"/>
<rect x="999" y="295" width="1" height="49" fill="#2848A6"/>
<rect x="998" y="300" width="3" height="35" fill="#2448AA"/>
<rect x="999" y="301" width="1" height="33" fill="#2A68FF"/>
<rect x="1005" y="283" width="1" height="17" fill="#AA2828"/>
<rect x="1004" y="291" width="3" height="5" fill="#B41818"/>
<rect x="1005" y="292" width="1" height="3" fill="#FF0000"/>
<rect x="1010" y="301" width="1" height="57" fill="#AA2828"/>
<rect x="1009" y="302" width="3" height="54" fill="#B41818"/>
<rect x="1010" y="303" width="1" height="52" fill="#FF0000"/>
<rect x="1016" y="313" width="1" height="37" fill="#2848A6"/>
<rect x="1015" y="315" width="3" height="23" fill="#2448AA"/>
<rect x="1016" y="316" width="1" height="21" fill="#2A68FF"/>
<rect x="1021" y="315" width="1" height="19" fill="#AA2828"/>
<rect x="1020" y="319" width="3" height="14" fill="#B41818"/>
<rect x="1021" y="320" width="1" height="12" fill="#FF0000"/>
<rect x="1026" y="305" width="1" height="30" fill="#2848A6"/>
<rect x="1025" y="313" width="3" height="16" fill="#2448AA"/>
<rect x="1026" y="314" width="1" height="14" fill="#2A68FF"/>
<rect x="1032" y="315" width="1" height="18" fill="#2848A6"/>
<rect x="1031" y="319" width="2" height="1" fill="#2448AA"/>
<rect x="1037" y="302" width="1" height="23" fill="#2848A6"/>
<rect x="1036" y="317" width="3" height="6" fill="#2448AA"/>
<rect x="1037" y="318" width="1" height="4" fill="#2A68FF"/>
<rect x="1043" y="289" width="1" height="44" fill="#2848A6"/>
<rect x="1042" y="292" width="3" height="38" fill="#2448AA"/>
<rect x="1043" y="293" width="1" height="36" fill="#2A68FF"/>
<rect x="1048" y="268" width="1" height="21" fill="#2848A6"/>
<rect x="1047" y="270" width="3" height="17" fill="#2448AA"/>
<rect x="1048" y="271" width="1" height="15" fill="#2A68FF"/>
<rect x="1054" y="242" width="1" height="18" fill="#2848A6"/>
<rect x="1053" y="244" width="3" height="10" fill="#2448AA"/>
<rect x="1054" y="245" width="1" height="8" fill="#2A68FF"/>
<rect x="1059" y="239" width="1" height="22" fill="#2848A6"/>
<rect x="1058" y="241" width="3" height="9" fill="#2448AA"/>
<rect x="1059" y="242" width="1" height="7" fill="#2A68FF"/>
<rect x="1064" y="202" width="1" height="44" fill="#2848A6"/>
<rect x="1063" y="202" width="3" height="43" fill="#2448AA"/>
<rect x="1064" y="203" width="1" height="41" fill="#2A68FF"/>
<rect x="1070" y="203" width="1" height="26" fill="#AA2828"/>
<rect x="1069" y="214" width="3" height="10" fill="#B41818"/>
<rect x="1070" y="215" width="1" height="8" fill="#FF0000"/>
<rect x="1075" y="195" width="1" height="24" fill="#2848A6"/>
<rect x="1074" y="204" width="3" height="15" fill="#2448AA"/>
<rect x="1075" y="205" width="1" height="13" fill="#2A68FF"/>
<rect x="1081" y="208" width="1" height="32" fill="#AA2828"/>
<rect x="1080" y="211" width="3" height="18" fill="#B41818"/>
<rect x="1081" y="212" width="1" height="16" fill="#FF0000"/>
<rect x="1086" y="205" width="1" height="14" fill="#AA2828"/>
<rect x="1085" y="213" width="3" height="6" fill="#B41818"/>
<rect x="1086" y="214" width="1" height="4" fill="#FF0000"/>
<rect x="1092" y="203" width="1" height="16" fill="#2848A6"/>
<rect x="1091" y="208" width="3" height="6" fill="#2448AA"/>
<rect x="1092" y="209" width="1" height="4" fill="#2A68FF"/>
<rect x="1097" y="196" width="1" height="28" fill="#AA2828"/>
<rect x="1096" y="203" width="3" height="21" fill="#B41818"/>
<rect x="1097" y="204" width="1" height="19" fill="#FF0000"/>
<rect x="1102" y="219" width="1" height="45" fill="#AA2828"/>
<rect x="1101" y="226" width="3" height="25" fill="#B41818"/>
<rect x="1102" y="227" width="1" height="23" fill="#FF0000"/>
</g>
<g shape-rendering="crispEdges">
<rect x="1" y="200" width="1229" height="2" fill="#F4000C"/>
<rect x="1" y="264" width="1229" height="1" fill="#0E820E"/>
<rect x="1" y="350" width="1229" height="2" fill="#007A00"/>
</g>
<g transform="translate(1105.00 271.00) scale(0.02791 0.02649) translate(-218 -135)" fill="#FF0000" stroke="#FF0000">
<path d="M222 345L232 328L246 300L240 268L245 215L262 205L300 190L330 184L350 165L375 148L415 140L445 148L480 150L520 186L540 166L560 160L600 165L640 172L680 195L720 215L750 245L780 285L800 330L812 380L820 430L835 480L845 520L840 575L750 582" fill="none" stroke-width="34.0" stroke-linejoin="round"/>
<path d="M222 345L240 360L300 378L330 372L345 350" fill="none" stroke-width="28.7"/>
<path d="M485 280L470 258L430 300L408 332" fill="none" stroke-width="28.7"/>
<path d="M350 300L345 420L340 490L375 540L390 560L370 582L490 582L495 540L520 460L510 440L470 410L440 380L425 340L405 315Z" stroke-width="10.7"/>
<path d="M530 350L542 395L590 350L600 366L640 360L670 350L690 370L725 348L705 395L700 420L740 435L790 440L775 470L770 490L790 520L830 545L840 577L750 582L765 560L740 520L710 470L680 475L640 490L625 530L615 572L510 572L500 548L530 525L525 470L530 420Z" stroke-width="10.7"/>
<path d="M300 218L340 210L352 250L330 262L305 250Z" stroke-width="10.7"/>
<path d="M270 278L315 284L305 314L268 304Z" stroke-width="10.7"/>
<path d="M395 150L445 148L480 152L478 185L455 178L430 196L412 180Z" stroke-width="10.7"/>
<path d="M405 335L418 400L432 470L424 400Z" fill="#D9E8FD" stroke="none"/>
<path d="M426 492L440 492L438 532L424 530Z" fill="#D9E8FD" stroke="none"/>
<path d="M500 470L515 452L508 520L498 540Z" fill="#D9E8FD" stroke="none"/>
</g>
<g transform="translate(1115.00 301.00) scale(0.05582 0.05519) translate(-218 -135)" fill="#FF0000" stroke="#FF0000">
<path d="M222 345L232 328L246 300L240 268L245 215L262 205L300 190L330 184L350 165L375 148L415 140L445 148L480 150L520 186L540 166L560 160L600 165L640 172L680 195L720 215L750 245L780 285L800 330L812 380L820 430L835 480L845 520L840 575L750 582" fill="none" stroke-width="17.0" stroke-linejoin="round"/>
<path d="M222 345L240 360L300 378L330 372L345 350" fill="none" stroke-width="14.3"/>
<path d="M485 280L470 258L430 300L408 332" fill="none" stroke-width="14.3"/>
<path d="M350 300L345 420L340 490L375 540L390 560L370 582L490 582L495 540L520 460L510 440L470 410L440 380L425 340L405 315Z" stroke-width="5.4"/>
<path d="M530 350L542 395L590 350L600 366L640 360L670 350L690 370L725 348L705 395L700 420L740 435L790 440L775 470L770 490L790 520L830 545L840 577L750 582L765 560L740 520L710 470L680 475L640 490L625 530L615 572L510 572L500 548L530 525L525 470L530 420Z" stroke-width="5.4"/>
<path d="M300 218L340 210L352 250L330 262L305 250Z" stroke-width="5.4"/>
<path d="M270 278L315 284L305 314L268 304Z" stroke-width="5.4"/>
<path d="M395 150L445 148L480 152L478 185L455 178L430 196L412 180Z" stroke-width="5.4"/>
<path d="M405 335L418 400L432 470L424 400Z" fill="#D9E8FD" stroke="none"/>
<path d="M426 492L440 492L438 532L424 530Z" fill="#D9E8FD" stroke="none"/>
<path d="M500 470L515 452L508 520L498 540Z" fill="#D9E8FD" stroke="none"/>
</g>
<g transform="translate(1133.20 361.30) scale(0.08341 0.08344) translate(-218 -135)" fill="#FF0000" stroke="#FF0000">
<path d="M222 345L232 328L246 300L240 268L245 215L262 205L300 190L330 184L350 165L375 148L415 140L445 148L480 150L520 186L540 166L560 160L600 165L640 172L680 195L720 215L750 245L780 285L800 330L812 380L820 430L835 480L845 520L840 575L750 582" fill="none" stroke-width="11.4" stroke-linejoin="round"/>
<path d="M222 345L240 360L300 378L330 372L345 350" fill="none" stroke-width="9.6"/>
<path d="M485 280L470 258L430 300L408 332" fill="none" stroke-width="9.6"/>
<path d="M350 300L345 420L340 490L375 540L390 560L370 582L490 582L495 540L520 460L510 440L470 410L440 380L425 340L405 315Z" stroke-width="3.6"/>
<path d="M530 350L542 395L590 350L600 366L640 360L670 350L690 370L725 348L705 395L700 420L740 435L790 440L775 470L770 490L790 520L830 545L840 577L750 582L765 560L740 520L710 470L680 475L640 490L625 530L615 572L510 572L500 548L530 525L525 470L530 420Z" stroke-width="3.6"/>
<path d="M300 218L340 210L352 250L330 262L305 250Z" stroke-width="3.6"/>
<path d="M270 278L315 284L305 314L268 304Z" stroke-width="3.6"/>
<path d="M395 150L445 148L480 152L478 185L455 178L430 196L412 180Z" stroke-width="3.6"/>
<path d="M405 335L418 400L432 470L424 400Z" fill="#D9E8FD" stroke="none"/>
<path d="M426 492L440 492L438 532L424 530Z" fill="#D9E8FD" stroke="none"/>
<path d="M500 470L515 452L508 520L498 540Z" fill="#D9E8FD" stroke="none"/>
</g>
<g shape-rendering="crispEdges" fill="#3A5FC0">
<rect x="1230" y="29" width="1" height="707"/>
<rect x="1" y="735" width="1279" height="1"/>
<rect x="1223" y="728" width="7" height="1"/>
<rect x="1223" y="700" width="7" height="1"/>
<rect x="1223" y="672" width="7" height="1"/>
<rect x="1223" y="644" width="7" height="1"/>
<rect x="1223" y="616" width="7" height="1"/>
<rect x="1223" y="588" width="7" height="1"/>
<rect x="1223" y="560" width="7" height="1"/>
<rect x="1223" y="532" width="7" height="1"/>
<rect x="1223" y="504" width="7" height="1"/>
<rect x="1223" y="476" width="7" height="1"/>
<rect x="1223" y="448" width="7" height="1"/>
<rect x="1223" y="420" width="7" height="1"/>
<rect x="1223" y="391" width="7" height="1"/>
<rect x="1223" y="363" width="7" height="1"/>
<rect x="1223" y="335" width="7" height="1"/>
<rect x="1223" y="307" width="7" height="1"/>
<rect x="1223" y="279" width="7" height="1"/>
<rect x="1223" y="251" width="7" height="1"/>
<rect x="1223" y="223" width="7" height="1"/>
<rect x="1223" y="195" width="7" height="1"/>
<rect x="1223" y="167" width="7" height="1"/>
<rect x="1223" y="139" width="7" height="1"/>
<rect x="1223" y="111" width="7" height="1"/>
<rect x="1223" y="83" width="7" height="1"/>
<rect x="1223" y="55" width="7" height="1"/>
<rect x="1223" y="251" width="7" height="1"/>
<rect x="9" y="730" width="1" height="5"/>
<rect x="29" y="730" width="1" height="5"/>
<rect x="40" y="730" width="1" height="5"/>
<rect x="63" y="730" width="1" height="5"/>
<rect x="87" y="730" width="1" height="5"/>
<rect x="111" y="730" width="1" height="5"/>
<rect x="133" y="730" width="1" height="5"/>
<rect x="157" y="730" width="1" height="5"/>
<rect x="180" y="730" width="1" height="5"/>
<rect x="204" y="730" width="1" height="5"/>
<rect x="227" y="730" width="1" height="5"/>
<rect x="251" y="730" width="1" height="5"/>
<rect x="275" y="730" width="1" height="5"/>
<rect x="299" y="730" width="1" height="5"/>
<rect x="323" y="730" width="1" height="5"/>
<rect x="346" y="730" width="1" height="5"/>
<rect x="370" y="730" width="1" height="5"/>
<rect x="394" y="730" width="1" height="5"/>
<rect x="416" y="730" width="1" height="5"/>
<rect x="440" y="730" width="1" height="5"/>
<rect x="464" y="730" width="1" height="5"/>
<rect x="488" y="730" width="1" height="5"/>
<rect x="511" y="730" width="1" height="5"/>
<rect x="535" y="730" width="1" height="5"/>
<rect x="559" y="730" width="1" height="5"/>
<rect x="582" y="730" width="1" height="5"/>
<rect x="606" y="730" width="1" height="5"/>
<rect x="630" y="730" width="1" height="5"/>
<rect x="654" y="730" width="1" height="5"/>
<rect x="678" y="730" width="1" height="5"/>
<rect x="699" y="730" width="1" height="5"/>
<rect x="723" y="730" width="1" height="5"/>
<rect x="747" y="730" width="1" height="5"/>
<rect x="771" y="730" width="1" height="5"/>
<rect x="794" y="730" width="1" height="5"/>
<rect x="818" y="730" width="1" height="5"/>
<rect x="842" y="730" width="1" height="5"/>
<rect x="865" y="730" width="1" height="5"/>
<rect x="889" y="730" width="1" height="5"/>
<rect x="913" y="730" width="1" height="5"/>
<rect x="937" y="730" width="1" height="5"/>
<rect x="961" y="730" width="1" height="5"/>
<rect x="982" y="730" width="1" height="5"/>
<rect x="1006" y="730" width="1" height="5"/>
<rect x="1030" y="730" width="1" height="5"/>
<rect x="1054" y="730" width="1" height="5"/>
<rect x="1077" y="730" width="1" height="5"/>
<rect x="1101" y="730" width="1" height="5"/>
<rect x="1151" y="730" width="1" height="5"/>
<rect x="1205" y="730" width="1" height="5"/>
</g>
<g fill="#0A0A80" stroke="#0A0A80" stroke-width="0.16">
<text x="1231.9" y="732">7,50</text>
<text x="1231.9" y="704">7,75</text>
<text x="1231.9" y="676">8,00</text>
<text x="1231.9" y="648">8,25</text>
<text x="1231.9" y="620">8,50</text>
<text x="1231.9" y="592">8,75</text>
<text x="1231.9" y="564">9,00</text>
<text x="1231.9" y="536">9,25</text>
<text x="1231.9" y="508">9,50</text>
<text x="1231.9" y="480">9,75</text>
<text x="1231.9" y="452">10,00</text>
<text x="1231.9" y="424">10,25</text>
<text x="1231.9" y="395">10,50</text>
<text x="1231.9" y="367">10,75</text>
<text x="1231.9" y="339">11,00</text>
<text x="1231.9" y="311">11,25</text>
<text x="1231.9" y="283">11,50</text>
<text x="1231.9" y="255">11,75</text>
<text x="1231.9" y="227">12,00</text>
<text x="1231.9" y="199">12,25</text>
<text x="1231.9" y="171">12,50</text>
<text x="1231.9" y="143">12,75</text>
<text x="1231.9" y="115">13,00</text>
<text x="1231.9" y="87">13,25</text>
<text x="1231.9" y="59">13,50</text>
<text x="8.8" y="748" text-anchor="middle">szept.</text>
<text x="39.8" y="748" text-anchor="middle">nov.</text>
<text x="62.8" y="748" text-anchor="middle">dec.</text>
<text x="86.8" y="748" text-anchor="middle">2011</text>
<text x="132.8" y="748" text-anchor="middle">márc.</text>
<text x="179.8" y="748" text-anchor="middle">máj.</text>
<text x="203.8" y="748" text-anchor="middle">jún.</text>
<text x="226.8" y="748" text-anchor="middle">júl.</text>
<text x="250.8" y="748" text-anchor="middle">aug.</text>
<text x="298.8" y="748" text-anchor="middle">okt.</text>
<text x="322.8" y="748" text-anchor="middle">nov.</text>
<text x="345.8" y="748" text-anchor="middle">dec.</text>
<text x="369.8" y="748" text-anchor="middle">2012</text>
<text x="415.8" y="748" text-anchor="middle">márc.</text>
<text x="463.8" y="748" text-anchor="middle">máj.</text>
<text x="487.8" y="748" text-anchor="middle">jún.</text>
<text x="510.8" y="748" text-anchor="middle">júl.</text>
<text x="534.8" y="748" text-anchor="middle">aug.</text>
<text x="581.8" y="748" text-anchor="middle">okt.</text>
<text x="605.8" y="748" text-anchor="middle">nov.</text>
<text x="629.8" y="748" text-anchor="middle">dec.</text>
<text x="653.8" y="748" text-anchor="middle">2013</text>
<text x="698.8" y="748" text-anchor="middle">márc.</text>
<text x="746.8" y="748" text-anchor="middle">máj.</text>
<text x="770.8" y="748" text-anchor="middle">jún.</text>
<text x="793.8" y="748" text-anchor="middle">júl.</text>
<text x="817.8" y="748" text-anchor="middle">aug.</text>
<text x="864.8" y="748" text-anchor="middle">okt.</text>
<text x="888.8" y="748" text-anchor="middle">nov.</text>
<text x="912.8" y="748" text-anchor="middle">dec.</text>
<text x="936.8" y="748" text-anchor="middle">2014</text>
<text x="981.8" y="748" text-anchor="middle">márc.</text>
<text x="1029.8" y="748" text-anchor="middle">máj.</text>
<text x="1053.8" y="748" text-anchor="middle">jún.</text>
<text x="1076.8" y="748" text-anchor="middle">júl.</text>
<text x="1100.8" y="748" text-anchor="middle">aug.</text>
</g>
<defs><linearGradient id="og" x1="0" y1="0" x2="0" y2="1"><stop offset="0" stop-color="#FFA673"/><stop offset="1" stop-color="#FF8040"/></linearGradient></defs>
<rect x="1232.5" y="243.5" width="47" height="15" rx="2.2" ry="2.2" fill="url(#og)" stroke="#8E4812" stroke-width="1"/>
<text x="1233.8" y="255" fill="#fff" stroke="#fff" stroke-width="0.1">11,76</text>
<text x="641.9" y="18" text-anchor="middle" fill="#000" stroke="#000" stroke-width="0.2" style="font-size:10.38px">iShares MSCI Japan Index CFD Heti</text>
</svg>
</body></html>
